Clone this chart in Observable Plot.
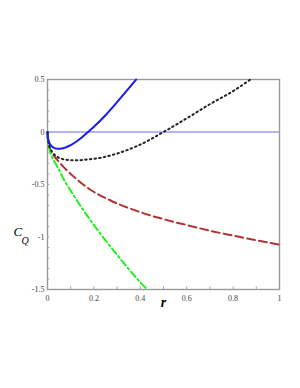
<!DOCTYPE html>
<html><head><meta charset="utf-8">
<script src="https://cdn.jsdelivr.net/npm/d3@7"></script>
<script src="https://cdn.jsdelivr.net/npm/@observablehq/plot@0.6"></script>
<style>body{margin:0;background:#fff}</style>
</head><body><div id="chart"></div>
<script>
const xTicks = [0, 0.2, 0.4, 0.6, 0.8, 1];
const xTickLabels = ["0", "0.2", "0.4", "0.6", "0.8", "1"];
const yTicks = [0.5, 0, -0.5, -1, -1.5];
const yTickLabels = ["0.5", "0", "-0.5", "-1", "-1.5"];

const blueR = [0,0.002,0.006,0.012,0.02,0.03,0.045,0.06,0.08,0.1,0.125,0.15,0.175,0.2,0.25,0.3,0.35,0.382];
const blueC = [0,-0.05,-0.09,-0.12,-0.14,-0.153,-0.16,-0.158,-0.145,-0.125,-0.09,-0.048,0,0.05,0.16,0.285,0.415,0.5];

const blackR = [0,0.002,0.006,0.012,0.02,0.035,0.06,0.1,0.13,0.17,0.23,0.3,0.4,0.5,0.6,0.7,0.8,0.875];
const blackC = [0,-0.07,-0.12,-0.16,-0.19,-0.225,-0.255,-0.268,-0.27,-0.262,-0.245,-0.205,-0.12,0,0.13,0.265,0.39,0.5];

const brownR = [0,0.002,0.006,0.012,0.02,0.042,0.07,0.113,0.185,0.27,0.4,0.5,0.616,0.7,0.83,1];
const brownC = [0,-0.07,-0.12,-0.165,-0.2,-0.265,-0.335,-0.425,-0.55,-0.65,-0.764,-0.83,-0.895,-0.94,-1.0,-1.074];

const greenR = [0,0.002,0.006,0.012,0.02,0.027,0.05,0.07,0.1,0.15,0.228,0.3,0.387,0.43];
const greenC = [0,-0.08,-0.14,-0.19,-0.24,-0.27,-0.36,-0.45,-0.56,-0.73,-0.97,-1.17,-1.40,-1.5];

const toRows = (R, C) => R.map((r, i) => ({r, c: C[i]}));
const xMinor = d3.range(0, 1.0001, 0.1).map(v => +v.toFixed(2));
const yMinor = d3.range(-1.5, 0.5001, 0.1).map(v => +v.toFixed(2));

const chart = Plot.plot({
  width: 300, height: 388,
  marginLeft: 47, marginRight: 21, marginTop: 79, marginBottom: 99,
  style: {fontFamily: "Liberation Serif", fontSize: "8px", color: "#333", background: "#fff"},
  x: {domain: [0, 1], axis: null},
  y: {domain: [-1.5, 0.5], axis: null},
  marks: [
    Plot.ruleX(xMinor, {x: d => d, y1: () => -1.5, y2: () => -1.475, stroke: "#aaa"}),
    Plot.ruleY(yMinor, {y: d => d, x1: () => 0, x2: () => 0.01, stroke: "#aaa"}),
    Plot.frame({stroke: "#999", strokeWidth: 1.4}),
    Plot.text(xTicks, {x: d => d, y: () => -1.5, text: (d, i) => xTickLabels[i], dy: 9, fill: "#444", fontSize: 8}),
    Plot.text(yTicks, {x: () => 0, y: d => d, text: (d, i) => yTickLabels[i], dx: -3, textAnchor: "end", fill: "#444", fontSize: 8}),
    Plot.ruleY([0], {stroke: "#6b6bf0", strokeWidth: 1.2}),
    Plot.line(toRows(brownR, brownC), {x: "r", y: "c", stroke: "#b23333", strokeWidth: 2, strokeDasharray: "8,4", curve: "monotone-x"}),
    Plot.line(toRows(greenR, greenC), {x: "r", y: "c", stroke: "#22ee22", strokeWidth: 2, strokeDasharray: "7,3,2,3", curve: "monotone-x"}),
    Plot.line(toRows(blackR, blackC), {x: "r", y: "c", stroke: "#222", strokeWidth: 2, strokeDasharray: "1.5,3.2", curve: "monotone-x"}),
    Plot.line(toRows(blueR, blueC), {x: "r", y: "c", stroke: "#1a1aee", strokeWidth: 2, curve: "monotone-x"}),
    Plot.text(["C"], {frameAnchor: "left", dx: -34, dy: 47, fontSize: 13, fontStyle: "italic", fontFamily: "Liberation Serif", textAnchor: "start", fill: "#000"}),
    Plot.text(["Q"], {frameAnchor: "left", dx: -26, dy: 56, fontSize: 10, fontStyle: "italic", fontFamily: "Liberation Serif", textAnchor: "start", fill: "#000"}),
    Plot.text(["r"], {frameAnchor: "bottom", dx: 0, dy: 17, fontSize: 14, fontStyle: "italic", fontWeight: "bold", fontFamily: "Liberation Serif", fill: "#000"})
  ]
});
document.getElementById("chart").appendChild(chart);
</script>
</body></html>
